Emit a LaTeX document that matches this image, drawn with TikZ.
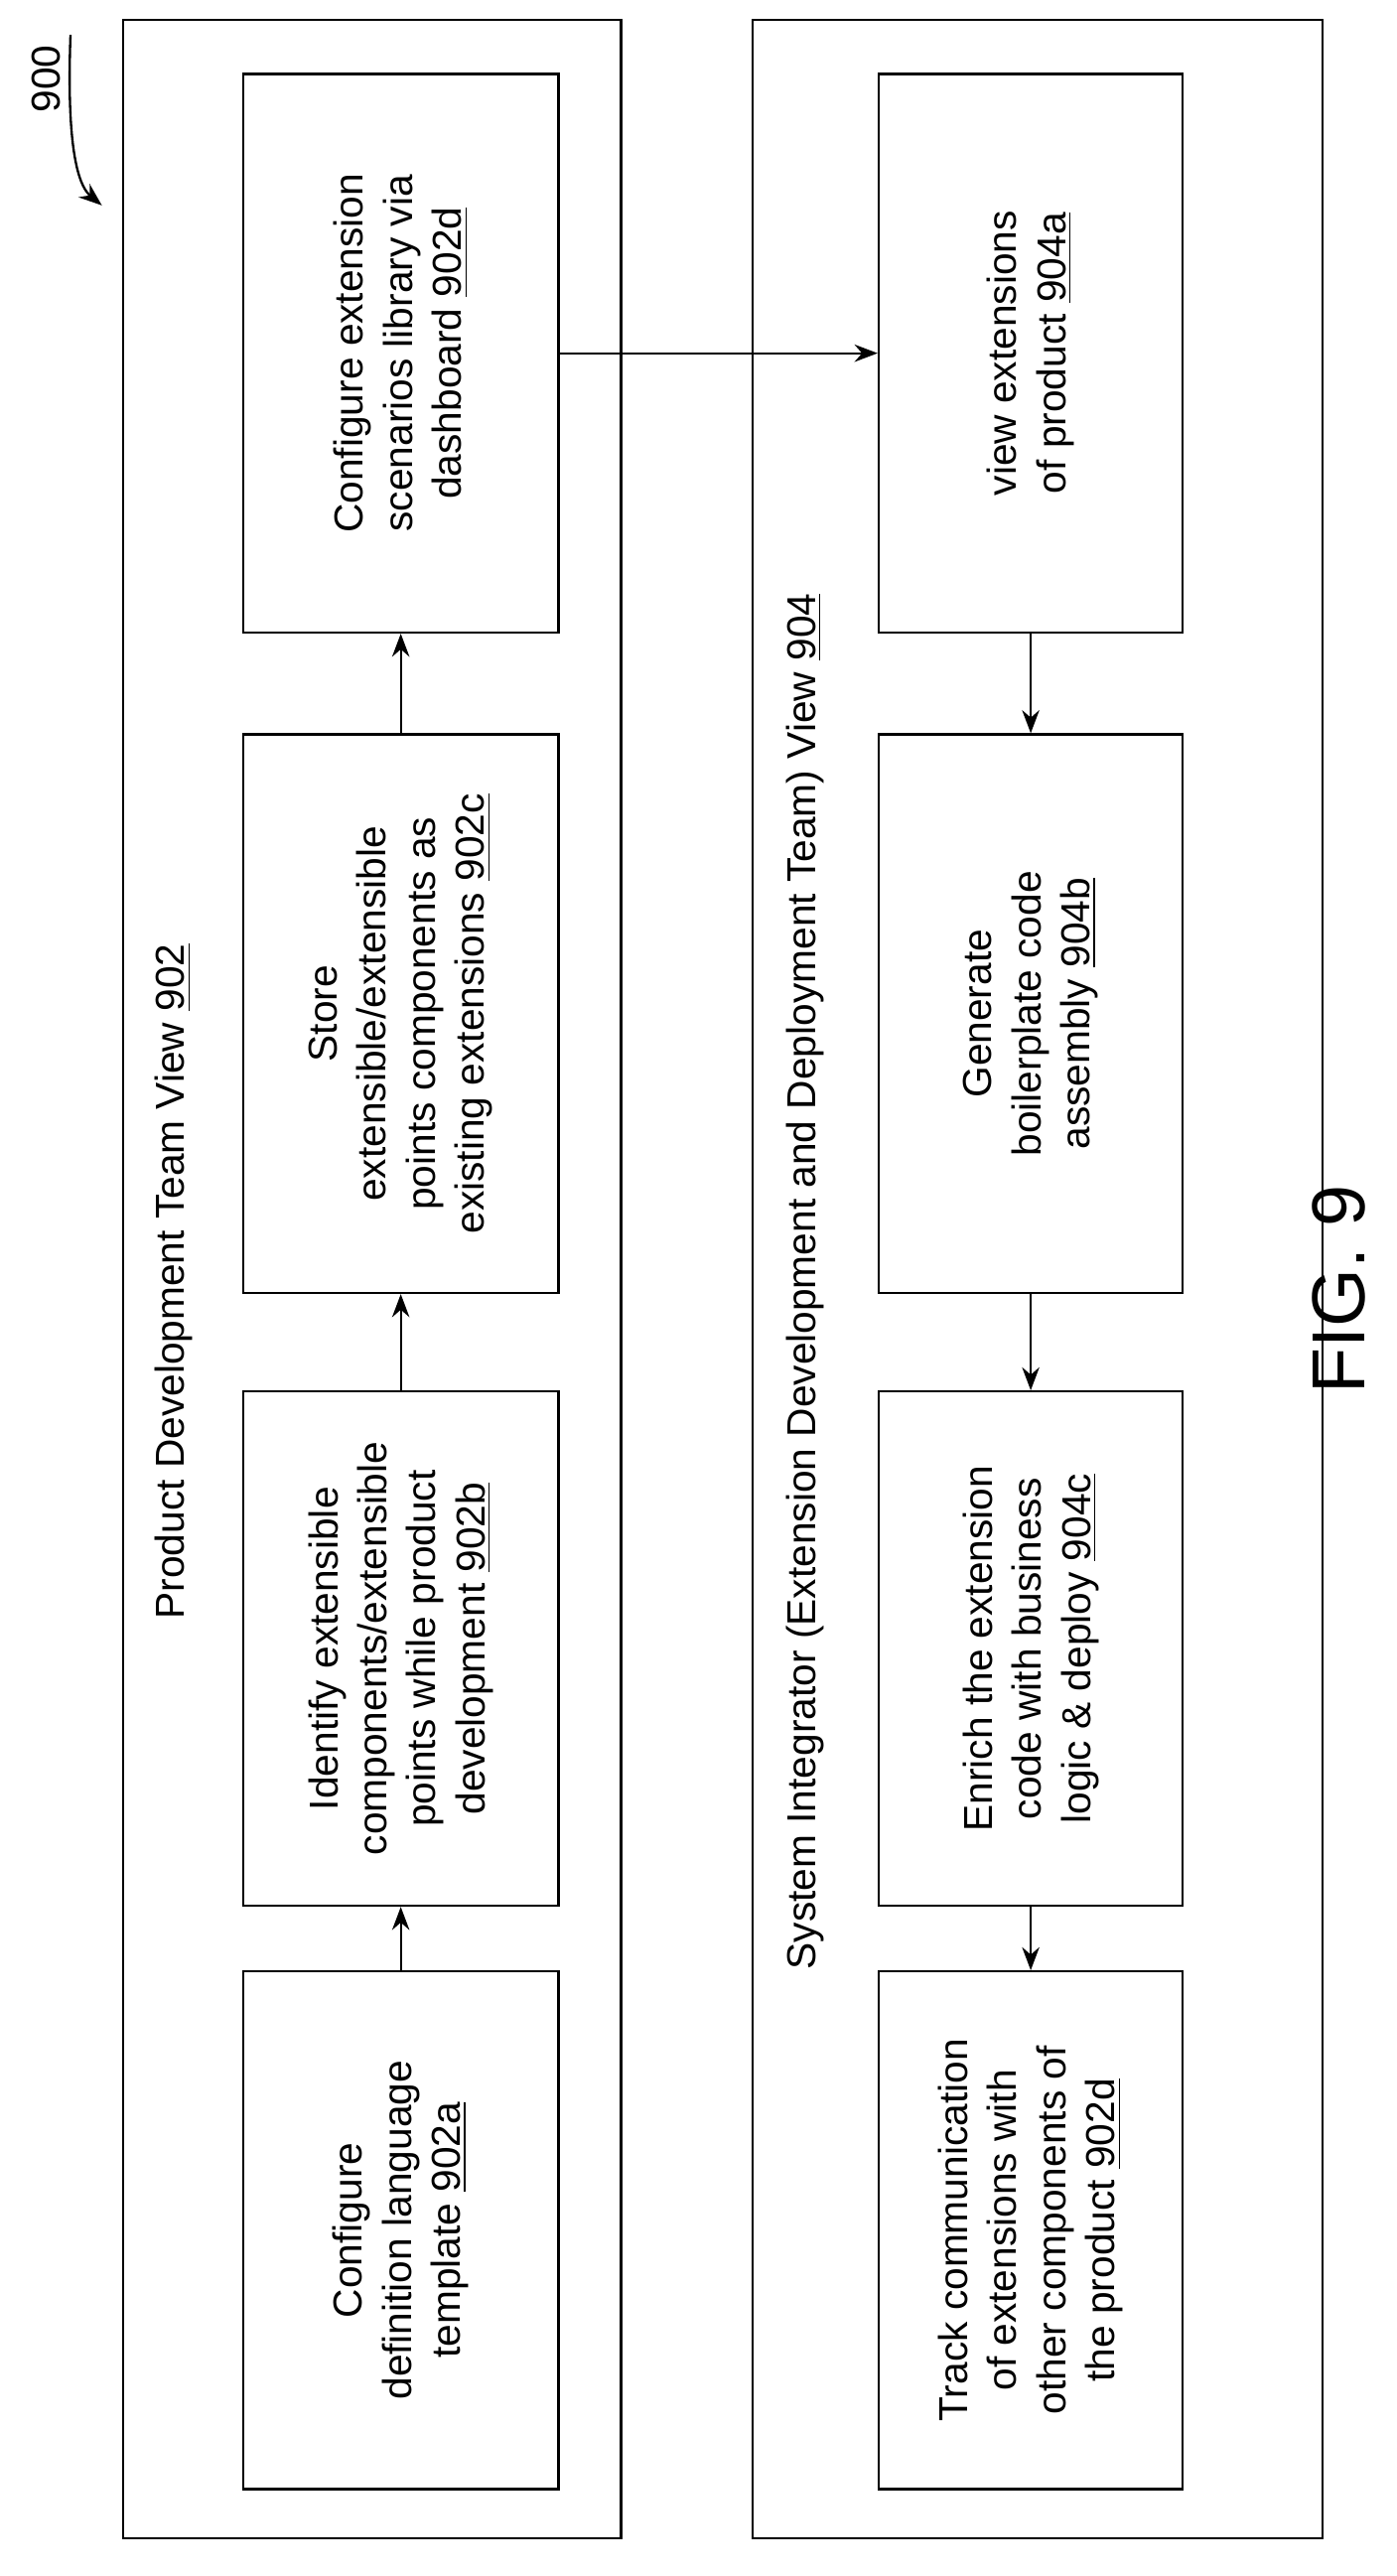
\documentclass[tikz,border=0pt]{standalone}
\usepackage{fontspec}
\setmainfont{Liberation Sans}
\usetikzlibrary{arrows.meta}
\begin{document}
\begin{tikzpicture}[x=0.02cm,y=-0.02cm,
 box/.style={draw,line width=0.8pt,rotate=90,align=center,inner sep=4pt,font=\fontsize{14}{17}\selectfont},
 outer/.style={draw,line width=0.8pt,rotate=90},
 ttl/.style={rotate=90,font=\fontsize{14}{17}\selectfont},
 arr/.style={-{Stealth[length=8pt,width=6pt]},line width=0.8pt}]
\useasboundingbox (0,0) rectangle (850,1568);
\node[outer,minimum width=1533*0.02cm,minimum height=303*0.02cm] (L) at (226.5,778.5) {};
\node[outer,minimum width=1533*0.02cm,minimum height=347*0.02cm] (R) at (631.5,778.5) {};
\node[ttl] (tl) at (106,780) {Product Development Team View \underline{902}};
\node[ttl] (tr) at (490,780) {System Integrator (Extension Development and Deployment Team) View \underline{904}};
\tikzset{lb/.style={box,minimum width=#1,minimum height=192*0.02cm}}
\node[lb=340*0.02cm] (d) at (244,215) {Configure extension\\scenarios library via\\dashboard \underline{902d}};
\node[lb=340*0.02cm] (c) at (244,617) {Store\\extensible/extensible\\points components as\\existing extensions \underline{902c}};
\node[lb=313*0.02cm] (b) at (244,1003.5) {Identify extensible\\components/extensible\\points while product\\development \underline{902b}};
\node[lb=315*0.02cm] (a) at (244,1357.5) {Configure\\definition language\\template \underline{902a}};
\tikzset{rb/.style={box,minimum width=#1,minimum height=185*0.02cm}}
\node[rb=340*0.02cm] (ra) at (627.5,215) {view extensions\\of product \underline{904a}};
\node[rb=340*0.02cm] (rb) at (627.5,617) {Generate\\boilerplate code\\assembly \underline{904b}};
\node[rb=313*0.02cm] (rc) at (627.5,1003.5) {Enrich the extension\\code with business\\logic \& deploy \underline{904c}};
\node[rb=315*0.02cm] (rd) at (627.5,1357.5) {Track communication\\of extensions with\\other components of\\the product \underline{902d}};
\draw[arr] (a.east) -- (b.west);
\draw[arr] (b.east) -- (c.west);
\draw[arr] (c.east) -- (d.west);
\draw[arr] (d.south) -- (ra.north);
\draw[arr] (ra.west) -- (rb.east);
\draw[arr] (rb.west) -- (rc.east);
\draw[arr] (rc.west) -- (rd.east);
\node[ttl] (n) at (28,48) {900};
\coordinate (nt) at (62,125);
\draw[arr] (n.south east) .. controls (40,100) and (50,115) .. (nt);
\node[rotate=90,font=\fontsize{26}{30}\selectfont] (fig) at (815,785) {FIG. 9};
\end{tikzpicture}
\end{document}
